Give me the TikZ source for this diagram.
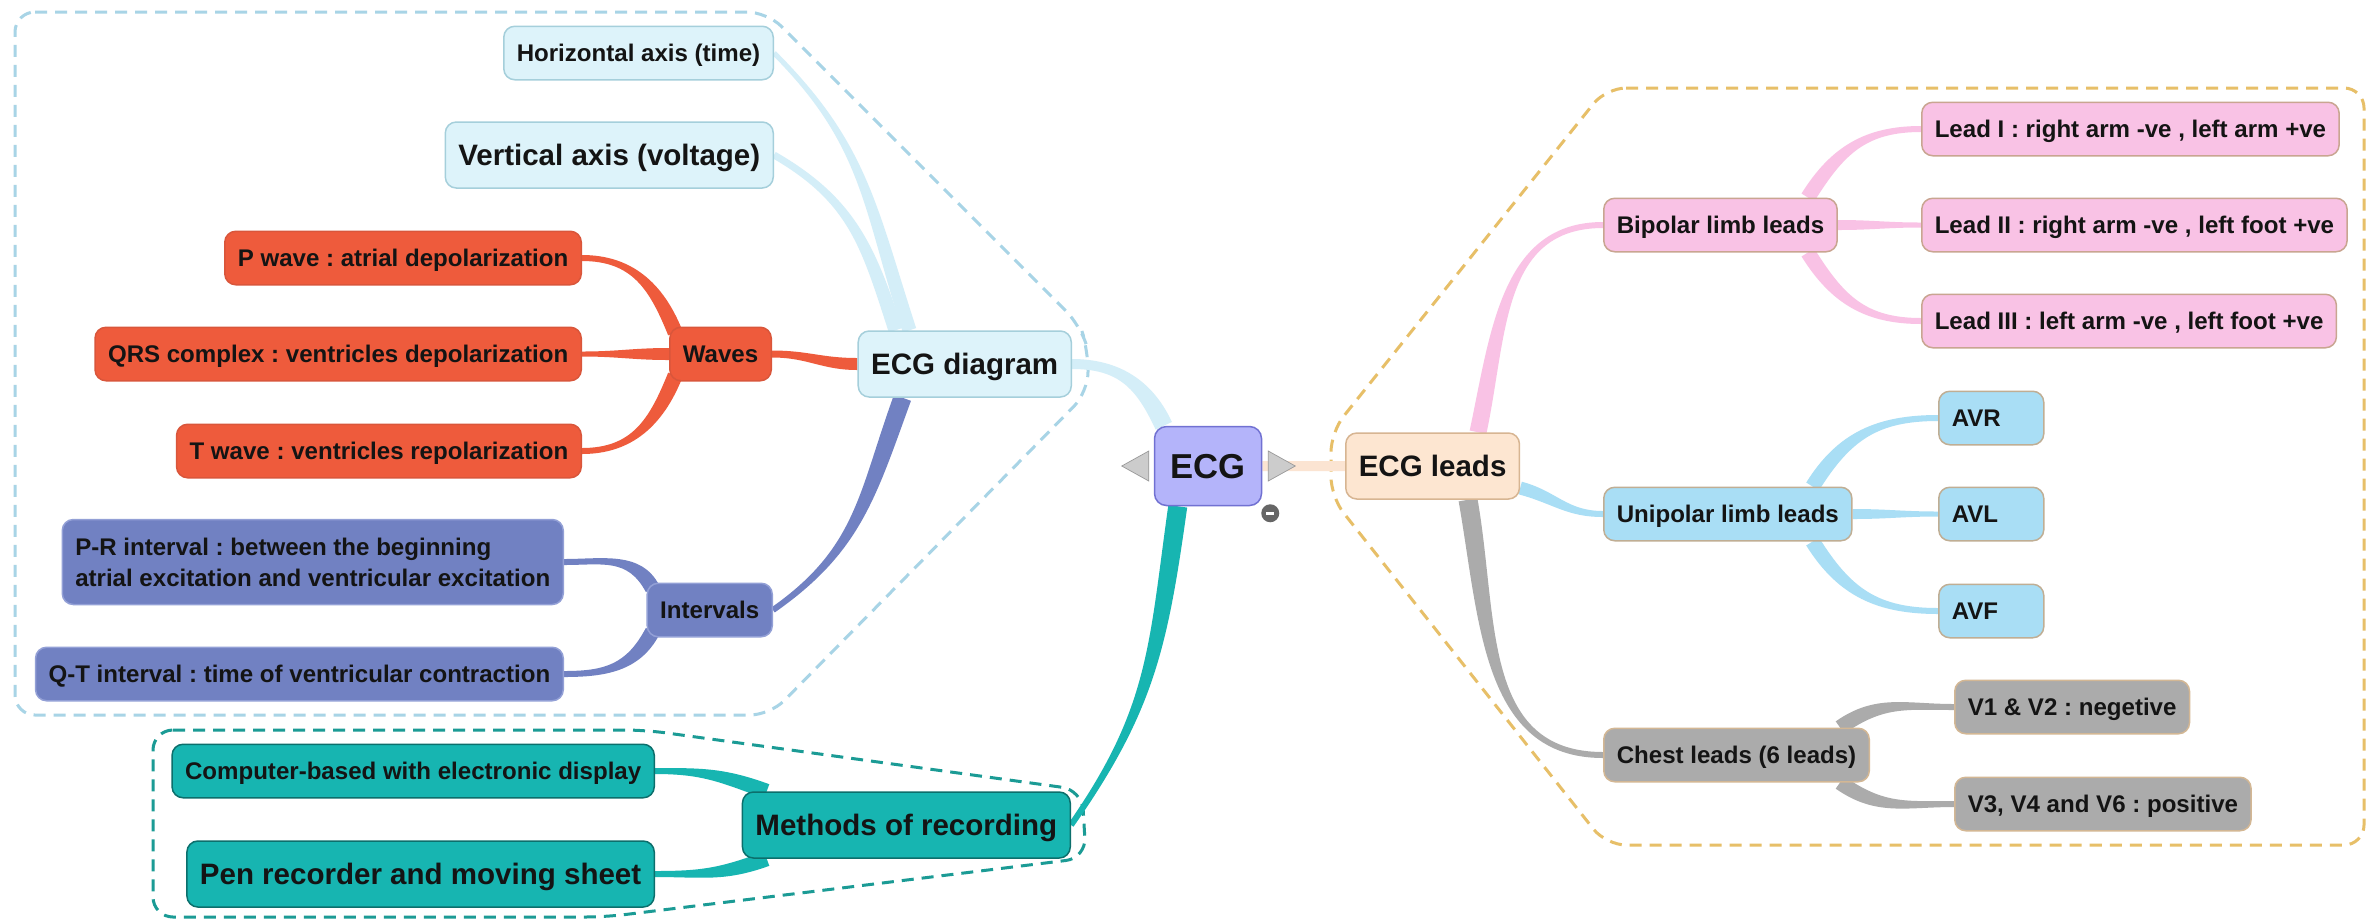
\documentclass[tikz,border=0pt]{standalone}
\usepackage{fontspec}
\setmainfont{Liberation Sans}
\frenchspacing
\usetikzlibrary{calc,backgrounds}
\definecolor{diagfill}{HTML}{DDF3FA}\definecolor{diagline}{HTML}{A5CFDB}\definecolor{diagband}{HTML}{D4EEF8}
\definecolor{wavefill}{HTML}{EE5B3C}\definecolor{waveline}{HTML}{D9563B}
\definecolor{intfill}{HTML}{7181C2}\definecolor{intline}{HTML}{93A0D6}
\definecolor{recfill}{HTML}{17B5B1}\definecolor{recline}{HTML}{0C6F6C}
\definecolor{rootfill}{HTML}{B4B4FA}\definecolor{rootline}{HTML}{7171D2}
\definecolor{leadfill}{HTML}{FDE6D1}\definecolor{leadline}{HTML}{D7B592}\definecolor{leadband}{HTML}{FBE4D2}
\definecolor{bipfill}{HTML}{F9C2E5}\definecolor{bipline}{HTML}{C9A591}
\definecolor{unifill}{HTML}{A9DEF5}\definecolor{uniline}{HTML}{C0AE94}
\definecolor{chestfill}{HTML}{ABABAB}\definecolor{chestline}{HTML}{D3B794}
\definecolor{diaggrp}{HTML}{A8D4E6}\definecolor{recgrp}{HTML}{1B9B95}\definecolor{leadgrp}{HTML}{E7BF68}
\newcommand{\fsm}{\fontsize{13.7pt}{17.6pt}\selectfont\bfseries}
\newcommand{\flg}{\fontsize{16.8pt}{20pt}\selectfont\bfseries}
% tapered band: colour, parent point, child point, out, in, half width at parent, at child
\newcommand{\mmbranch}[7]{%
  \coordinate (bA) at (#2);
  \coordinate (bB) at (#3);
  \path let \p1=($(bB)-(bA)$), \n1={0.42*veclen(\x1,\y1)} in
    ($(bA)+(#4:\n1)$) coordinate (bC) ($(bB)+(#5:\n1)$) coordinate (bD);
  \fill[#1] ($(bA)!#6!90:(bC)$) .. controls ($(bC)!#6!-90:(bA)$) and ($(bD)!#7!90:(bB)$) .. ($(bB)!#7!-90:(bD)$)
    -- ($(bB)!#7!90:(bD)$) .. controls ($(bD)!#7!-90:(bB)$) and ($(bC)!#6!90:(bA)$) .. ($(bA)!#6!-90:(bC)$) -- cycle;
}

\begin{document}
\begin{tikzpicture}[x=0.2mm,y=-0.2mm,
  mmbox/.style={draw,rounded corners=2.2mm,line width=0.3mm,inner xsep=2.6mm,inner ysep=0pt,text=black!92},
  sm/.style={mmbox,font=\fsm,minimum height=10.7mm,text height=9.9pt,text depth=0pt},
  lg/.style={mmbox,font=\flg,minimum height=13.2mm,text height=12.1pt,text depth=0pt},
  twoline/.style={mmbox,font=\fsm,minimum height=17mm,align=left},
  avbox/.style={text width=15.8mm,align=left},
  diag/.style={fill=diagfill,draw=diagline},
  wave/.style={fill=wavefill,draw=waveline},
  intv/.style={fill=intfill,draw=intline},
  rec/.style={fill=recfill,draw=recline},
  lead/.style={fill=leadfill,draw=leadline},
  bip/.style={fill=bipfill,draw=bipline},
  uni/.style={fill=unifill,draw=uniline},
  chest/.style={fill=chestfill,draw=chestline},
  root/.style={draw=rootline,fill=rootfill,line width=0.3mm,rounded corners=2.4mm,minimum width=21.4mm,minimum height=15.8mm,
    font=\fontsize{19.7pt}{22pt}\selectfont\bfseries,text height=14.2pt,text depth=0pt,text=black!92},
  grp/.style={line width=0.6mm,rounded corners=4mm,dash pattern=on 2.4mm off 1.6mm}]
\useasboundingbox (0,0) rectangle (2369,920);
% root
\node[root] (ecg) at (1208,466) {ECG};
% ECG diagram side
\node[lg,diag,anchor=east] (ecgdiag) at (1072,364) {ECG diagram};
\node[sm,diag,anchor=east] (haxis) at (774,53) {Horizontal axis (time)};
\node[lg,diag,anchor=east] (vaxis) at (774,155) {Vertical axis (voltage)};
\node[sm,wave,anchor=east] (waves) at (772,354) {Waves};
\node[sm,wave,anchor=east] (pwave) at (582,258) {P wave : atrial depolarization};
\node[sm,wave,anchor=east] (qrs) at (582,354) {QRS complex : ventricles depolarization};
\node[sm,wave,anchor=east] (twave) at (582,451) {T wave : ventricles repolarization};
\node[sm,intv,anchor=east] (interv) at (773,610) {Intervals};
\node[twoline,intv,anchor=east] (print) at (564,562) {P-R interval : between the beginning\\atrial excitation and ventricular excitation};
\node[sm,intv,anchor=east] (qtint) at (564,674) {Q-T interval : time of ventricular contraction};
% recording
\node[lg,rec,anchor=east] (methods) at (1071,825) {Methods of recording};
\node[sm,rec,anchor=east] (comp) at (655,771) {Computer-based with electronic display};
\node[lg,rec,anchor=east] (pen) at (655,874) {Pen recorder and moving sheet};
% leads side
\node[lg,lead,anchor=west] (leads) at (1345,466) {ECG leads};
\node[sm,bip,anchor=west] (bipolar) at (1603,225) {Bipolar limb leads};
\node[sm,bip,anchor=west] (lead1) at (1921,129) {Lead I : right arm -ve , left arm +ve};
\node[sm,bip,anchor=west] (lead2) at (1921,225) {Lead II : right arm -ve , left foot +ve};
\node[sm,bip,anchor=west] (lead3) at (1921,321) {Lead III : left arm -ve , left foot +ve};
\node[sm,uni,anchor=west] (unipolar) at (1603,514) {Unipolar limb leads};
\foreach \nm/\yy/\txt in {avr/418/AVR,avl/514/AVL,avf/611/AVF}
  \node[sm,uni,avbox,anchor=west] (\nm) at (1938,\yy) {\txt};
\node[sm,chest,anchor=west] (chest) at (1603,755) {Chest leads (6 leads)};
\node[sm,chest,anchor=west] (v12) at (1954,707) {V1 \& V2 : negetive};
\node[sm,chest,anchor=west] (v346) at (1954,804) {V3, V4 and V6 : positive};
% arrows and collapse mark on the root
\filldraw[fill=black!20,draw=black!40] ($(ecg.west)+(-5,-15)$) -- ($(ecg.west)+(-5,15)$) -- ($(ecg.west)+(-32,0)$) -- cycle;
\filldraw[fill=black!20,draw=black!40] ($(ecg.east)+(6,-15)$) -- ($(ecg.east)+(6,15)$) -- ($(ecg.east)+(33,0)$) -- cycle;
\fill[black!60] ($(ecg.south east)+(8,7)$) circle (1.8mm);
\draw[white,line width=0.5mm] ($(ecg.south east)+(4,7)$) -- ($(ecg.south east)+(12,7)$);
\begin{pgfonlayer}{background}
\fill[white] (0,0) rectangle (2369,920);
% group outlines
\draw[grp,diaggrp] (15,12) -- (767,12) -- (1080,325) -- (1088,350) -- (1088,392) -- (770,715) -- (15,715) -- cycle;
\draw[grp,recgrp] (153,730) -- (645,730) -- (1082,790) -- (1086,858) -- (605,917) -- (153,917) -- cycle;
\draw[grp,leadgrp] (1606,88) -- (2364,88) -- (2364,845) -- (1606,845) -- (1331,497) -- (1331,432) -- cycle;
% main branches
\mmbranch{diagband}{$(ecg.north west)+(10,0)$}{ecgdiag.east}{115}{0}{1.8mm}{1.0mm}
\mmbranch{leadband}{ecg.east}{leads.west}{0}{180}{1.0mm}{1.0mm}
\mmbranch{recfill}{$(ecg.south west)+(24,0)$}{methods.east}{262}{55}{1.9mm}{0.6mm}
% ECG diagram
\mmbranch{diagband}{$(ecgdiag.north west)+(52,0)$}{haxis.east}{108}{315}{1.4mm}{0.5mm}
\mmbranch{diagband}{$(ecgdiag.north west)+(38,0)$}{vaxis.east}{108}{330}{1.4mm}{0.7mm}
\mmbranch{wavefill}{ecgdiag.west}{waves.east}{180}{0}{1.2mm}{0.7mm}
\mmbranch{intfill}{$(ecgdiag.south west)+(45,0)$}{interv.east}{250}{35}{1.8mm}{0.6mm}
\mmbranch{wavefill}{$(waves.north west)+(6,6)$}{pwave.east}{112}{0}{1.5mm}{0.6mm}
\mmbranch{wavefill}{waves.west}{qrs.east}{180}{0}{1.2mm}{0.5mm}
\mmbranch{wavefill}{$(waves.south west)+(6,-6)$}{twave.east}{248}{0}{1.5mm}{0.6mm}
\mmbranch{intfill}{$(interv.north west)+(6,6)$}{print.east}{118}{0}{1.5mm}{0.6mm}
\mmbranch{intfill}{$(interv.south west)+(6,-6)$}{qtint.east}{242}{0}{1.5mm}{0.6mm}
% recording
\mmbranch{recfill}{$(methods.north west)+(25,0)$}{comp.east}{160}{0}{1.5mm}{0.6mm}
\mmbranch{recfill}{$(methods.south west)+(25,0)$}{pen.east}{200}{0}{1.5mm}{0.6mm}
% ECG leads
\mmbranch{bipfill}{$(leads.north west)+(133,0)$}{bipolar.west}{78}{180}{1.7mm}{0.6mm}
\mmbranch{unifill}{$(leads.east)+(0,22)$}{unipolar.west}{345}{180}{1.3mm}{0.6mm}
\mmbranch{chestfill}{$(leads.south west)+(123,0)$}{chest.west}{280}{180}{1.9mm}{0.6mm}
\mmbranch{bipfill}{$(bipolar.north east)+(-30,0)$}{lead1.west}{58}{180}{1.5mm}{0.6mm}
\mmbranch{bipfill}{bipolar.east}{lead2.west}{0}{180}{1.0mm}{0.5mm}
\mmbranch{bipfill}{$(bipolar.south east)+(-30,0)$}{lead3.west}{302}{180}{1.5mm}{0.6mm}
\mmbranch{unifill}{$(unipolar.north east)+(-40,0)$}{avr.west}{58}{180}{1.5mm}{0.6mm}
\mmbranch{unifill}{unipolar.east}{avl.west}{0}{180}{1.0mm}{0.5mm}
\mmbranch{unifill}{$(unipolar.south east)+(-40,0)$}{avf.west}{302}{180}{1.5mm}{0.6mm}
\mmbranch{chestfill}{$(chest.north east)+(-30,0)$}{v12.west}{35}{180}{1.5mm}{0.6mm}
\mmbranch{chestfill}{$(chest.south east)+(-30,0)$}{v346.west}{325}{180}{1.5mm}{0.6mm}
\end{pgfonlayer}
\end{tikzpicture}
\end{document}
